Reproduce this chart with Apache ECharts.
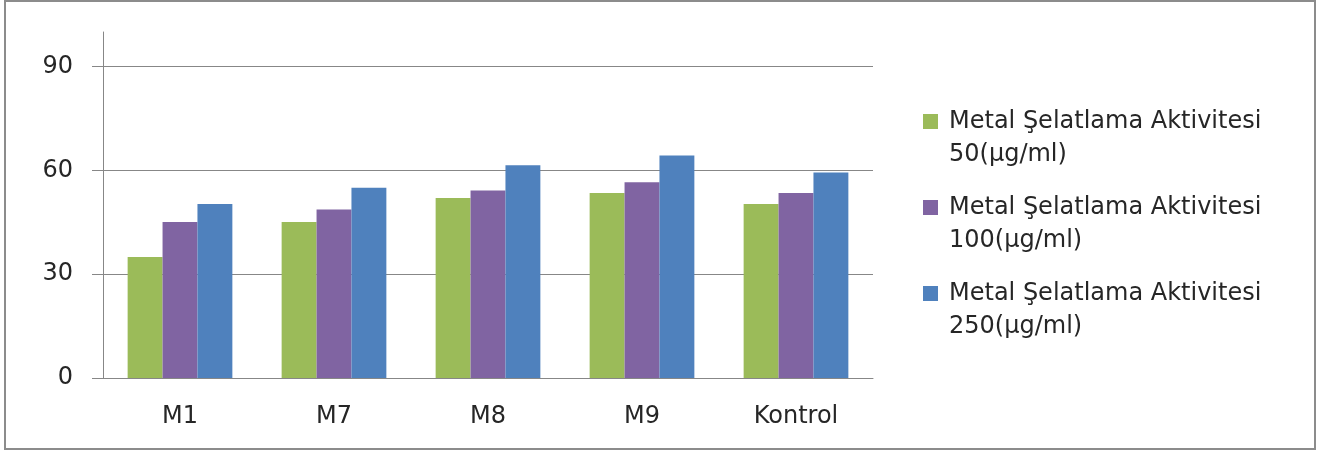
<!DOCTYPE html>
<html>
<head>
<meta charset="utf-8">
<script src="https://cdn.jsdelivr.net/npm/echarts@6/dist/echarts.min.js"></script>
<style>
  html, body { margin: 0; padding: 0; background: #fff; }
  #wrap { position: relative; width: 1319px; height: 452px; }
  #chart { position: absolute; left: 0; top: 0; width: 1319px; height: 452px; }
  #frame { position: absolute; left: 4px; top: 0px; width: 1308px; height: 446px; border: 2px solid #8c8c8c; pointer-events: none; }
</style>
</head>
<body>
<div id="wrap">
  <div id="chart"></div>
  <div id="frame"></div>
</div>
<script>
const categories = ['M1', 'M7', 'M8', 'M9', 'Kontrol'];
const seriesNames = [
  'Metal Şelatlama Aktivitesi\n50(µg/ml)',
  'Metal Şelatlama Aktivitesi\n100(µg/ml)',
  'Metal Şelatlama Aktivitesi\n250(µg/ml)'
];
const values50 = [35.0, 45.1, 52.0, 53.5, 50.3];
const values100 = [45.1, 48.7, 54.2, 56.6, 53.5];
const values250 = [50.3, 55.0, 61.5, 64.3, 59.4];
const yTicks = [0, 30, 60, 90];
const colors = ['#9BBB59', '#8064A2', '#4F81BD'];

const FONT = 'DejaVu Sans';
const TXT = '#262626';
const GRID = '#878787';

const chart = echarts.init(document.getElementById('chart'), null, { renderer: 'canvas' });
const allValues = [values50, values100, values250];

chart.setOption({
  animation: false,
  backgroundColor: '#ffffff',
  color: colors,
  grid: { left: 103, right: 446, top: 32, bottom: 74, containLabel: false },
  legend: {
    orient: 'vertical',
    left: 923,
    top: 72,
    padding: 0,
    itemWidth: 15,
    itemHeight: 15,
    itemGap: -13,
    icon: 'rect',
    data: seriesNames,
    formatter: function (name) { return ' \n' + name; },
    textStyle: {
      fontFamily: FONT,
      fontSize: 24,
      color: TXT,
      lineHeight: 33,
      padding: [0, 0, 0, 6]
    }
  },
  xAxis: {
    type: 'category',
    data: categories,
    axisLine: { show: true, lineStyle: { color: GRID, width: 1 } },
    axisTick: { show: false },
    axisLabel: { fontFamily: FONT, fontSize: 24, color: TXT, margin: 27 },
    splitLine: { show: false }
  },
  yAxis: {
    type: 'value',
    min: 0,
    max: 100,
    interval: 10,
    axisLine: { show: true, lineStyle: { color: GRID, width: 1 } },
    axisTick: { show: true, inside: false, length: 11, customValues: yTicks, lineStyle: { color: GRID, width: 1 } },
    axisLabel: { fontFamily: FONT, fontSize: 24, color: TXT, margin: 30, customValues: yTicks },
    splitLine: { show: true, lineStyle: { color: GRID, width: 1 } }
  },
  series: seriesNames.map((name, i) => ({
    name: name,
    type: 'bar',
    data: allValues[i],
    barGap: '0%',
    barCategoryGap: '32%',
    itemStyle: { color: colors[i] }
  }))
});
</script>
</body>
</html>
